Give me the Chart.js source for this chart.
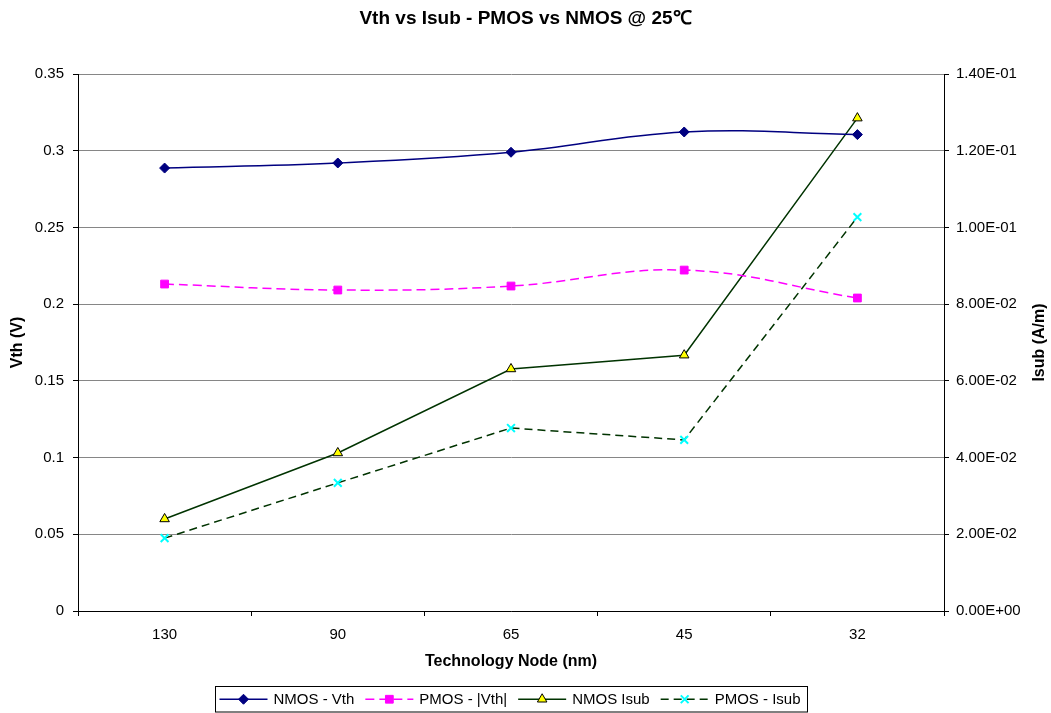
<!DOCTYPE html>
<html>
<head>
<meta charset="utf-8">
<script src="https://cdn.jsdelivr.net/npm/chart.js@4.4.1/dist/chart.umd.min.js"></script>
<style>
  html, body { margin: 0; padding: 0; background: #ffffff; }
  canvas { display: block; }
</style>
</head>
<body>
<canvas id="c" width="1051" height="713"></canvas>
<script>
const categories = ['130', '90', '65', '45', '32'];
const nmosVth = [0.2887, 0.2920, 0.2990, 0.3122, 0.3105];
const pmosVth = [0.2131, 0.2092, 0.2118, 0.2222, 0.2040];
const nmosIsub = [0.0240, 0.0412, 0.0631, 0.0667, 0.1285];
const pmosIsub = [0.0190, 0.0334, 0.0477, 0.0446, 0.1027];
const leftTicks = [0, 0.05, 0.1, 0.15, 0.2, 0.25, 0.3, 0.35];
const rightTicks = [0, 0.02, 0.04, 0.06, 0.08, 0.10, 0.12, 0.14];
const rightTitle = 'Isub (A/m)';

const FONT = '"Liberation Sans", Arial, Helvetica, sans-serif';

function expLabel(v) {
  if (Math.abs(v) < 1e-12) return '0.00E+00';
  let e = Math.floor(Math.log10(Math.abs(v)) + 1e-9);
  let m = v / Math.pow(10, e);
  if (Math.abs(m) >= 9.995) { m /= 10; e += 1; }
  const sign = e < 0 ? '-' : '+';
  const ae = Math.abs(e);
  return m.toFixed(2) + 'E' + sign + (ae < 10 ? '0' + ae : String(ae));
}

const datasets = [
  {
    label: 'NMOS - Vth', data: nmosVth, yAxisID: 'y',
    borderColor: '#000080', backgroundColor: '#000080', borderWidth: 1.5,
    pointStyle: 'rectRot', pointRadius: 5, pointBorderWidth: 1,
    pointBackgroundColor: '#000080', pointBorderColor: '#000080',
    tension: 0.4, borderDash: []
  },
  {
    label: 'PMOS - |Vth|', data: pmosVth, yAxisID: 'y',
    borderColor: '#FF00FF', backgroundColor: '#FF00FF', borderWidth: 1.5,
    pointStyle: 'rect', pointRadius: 5.5, pointBorderWidth: 1,
    pointBackgroundColor: '#FF00FF', pointBorderColor: '#FF00FF',
    tension: 0.4, borderDash: [9, 5]
  },
  {
    label: 'NMOS Isub', data: nmosIsub, yAxisID: 'y1',
    borderColor: '#003300', backgroundColor: '#FFFF00', borderWidth: 1.5,
    pointStyle: 'triangle', pointRadius: 5.5, pointBorderWidth: 1,
    pointBackgroundColor: '#FFFF00', pointBorderColor: '#000000',
    tension: 0, borderDash: []
  },
  {
    label: 'PMOS - Isub', data: pmosIsub, yAxisID: 'y1',
    borderColor: '#003300', backgroundColor: '#00FFFF', borderWidth: 1.5,
    pointStyle: 'crossRot', pointRadius: 5.5, pointBorderWidth: 2,
    pointBackgroundColor: '#00FFFF', pointBorderColor: '#00FFFF',
    tension: 0, borderDash: [8, 5]
  }
];

const legendPlugin = {
  id: 'boxLegend',
  afterDraw(chart) {
    const ctx = chart.ctx;
    const H = Chart.helpers;
    ctx.save();
    ctx.font = '15px ' + FONT;
    const lineLen = 48, gapLine = 6, gapText = 11, padL = 4, padR = 7;
    const widths = datasets.map(d => ctx.measureText(d.label).width);
    let total = padL + padR;
    widths.forEach((w, i) => { total += lineLen + gapLine + w + (i < widths.length - 1 ? gapText : 0); });
    const ca = chart.chartArea;
    const cx = (ca.left + ca.right) / 2;
    const boxTop = 686.5, boxH = 25.5;
    const left = Math.round(cx - total / 2) + 0.5;
    ctx.strokeStyle = '#000000';
    ctx.lineWidth = 1;
    ctx.setLineDash([]);
    ctx.strokeRect(left, boxTop, Math.round(total), boxH);
    const cy = boxTop + boxH / 2;
    let x = left + padL;
    datasets.forEach((d, i) => {
      ctx.beginPath();
      ctx.strokeStyle = d.borderColor;
      ctx.lineWidth = d.borderWidth;
      ctx.setLineDash(d.borderDash || []);
      ctx.moveTo(x, cy);
      ctx.lineTo(x + lineLen, cy);
      ctx.stroke();
      ctx.setLineDash([]);
      ctx.fillStyle = d.pointBackgroundColor;
      ctx.strokeStyle = d.pointBorderColor;
      ctx.lineWidth = d.pointBorderWidth;
      H.drawPoint(ctx, { pointStyle: d.pointStyle, radius: d.pointRadius, rotation: 0, borderWidth: d.pointBorderWidth }, x + lineLen / 2, cy);
      x += lineLen + gapLine;
      ctx.fillStyle = '#000000';
      ctx.textBaseline = 'middle';
      ctx.textAlign = 'left';
      ctx.fillText(d.label, x, cy + 0.5);
      x += widths[i] + gapText;
    });
    // right axis title, reading bottom-to-top
    ctx.save();
    ctx.translate(1040, (ca.top + ca.bottom) / 2);
    ctx.rotate(-Math.PI / 2);
    ctx.font = 'bold 16px ' + FONT;
    ctx.fillStyle = '#000000';
    ctx.textAlign = 'center';
    ctx.textBaseline = 'middle';
    ctx.fillText(rightTitle, 0, 0);
    ctx.restore();
    ctx.restore();
  }
};

const bgPlugin = {
  id: 'bg',
  beforeDraw(chart) {
    const ctx = chart.ctx;
    ctx.save();
    ctx.fillStyle = '#ffffff';
    ctx.fillRect(0, 0, chart.width, chart.height);
    ctx.restore();
  }
};

new Chart(document.getElementById('c'), {
  type: 'line',
  data: { labels: categories, datasets: datasets },
  options: {
    responsive: false,
    maintainAspectRatio: false,
    devicePixelRatio: 1,
    animation: false,
    layout: { padding: { left: 0, right: 0, top: 0, bottom: 42 } },
    plugins: {
      legend: { display: false },
      tooltip: { enabled: false },
      title: {
        display: true,
        text: 'Vth vs Isub - PMOS vs NMOS @ 25\u2103',
        color: '#000000',
        font: { family: FONT, size: 19, weight: 'bold' },
        padding: { top: 7, bottom: 44.2 }
      }
    },
    scales: {
      x: {
        type: 'category',
        offset: true,
        grid: { display: true, drawOnChartArea: false, offset: true, tickLength: 5, tickColor: '#000000', tickWidth: 1 },
        border: { display: true, color: '#000000', width: 1 },
        ticks: { color: '#000000', font: { family: FONT, size: 15 }, padding: 10, maxRotation: 0, autoSkip: false },
        title: { display: true, text: 'Technology Node (nm)', color: '#000000', font: { family: FONT, size: 16, weight: 'bold' }, padding: { top: 4, bottom: 0 } },
        afterFit(scale) { scale.height = 60; }
      },
      y: {
        position: 'left',
        min: 0, max: 0.35,
        afterBuildTicks(scale) { scale.ticks = leftTicks.map(v => ({ value: v })); },
        grid: { display: true, color: '#868686', lineWidth: 1, tickLength: 5, tickColor: '#000000', drawOnChartArea: true },
        border: { display: true, color: '#000000', width: 1 },
        ticks: { color: '#000000', font: { family: FONT, size: 15 }, padding: 9, callback: v => String(+Number(v).toFixed(2)) },
        title: { display: true, text: 'Vth (V)', color: '#000000', font: { family: FONT, size: 16, weight: 'bold' }, padding: { top: 8, bottom: 0 } },
        afterFit(scale) { scale.width = 78; }
      },
      y1: {
        position: 'right',
        min: 0, max: 0.14,
        afterBuildTicks(scale) { scale.ticks = rightTicks.map(v => ({ value: v })); },
        grid: { display: true, drawOnChartArea: false, tickLength: 5, tickColor: '#000000' },
        border: { display: true, color: '#000000', width: 1 },
        ticks: { color: '#000000', font: { family: FONT, size: 15 }, padding: 7, callback: v => expLabel(Number(v)) },
        title: { display: false },
        afterFit(scale) { scale.width = 107; }
      }
    }
  },
  plugins: [bgPlugin, legendPlugin]
});
</script>
</body>
</html>
